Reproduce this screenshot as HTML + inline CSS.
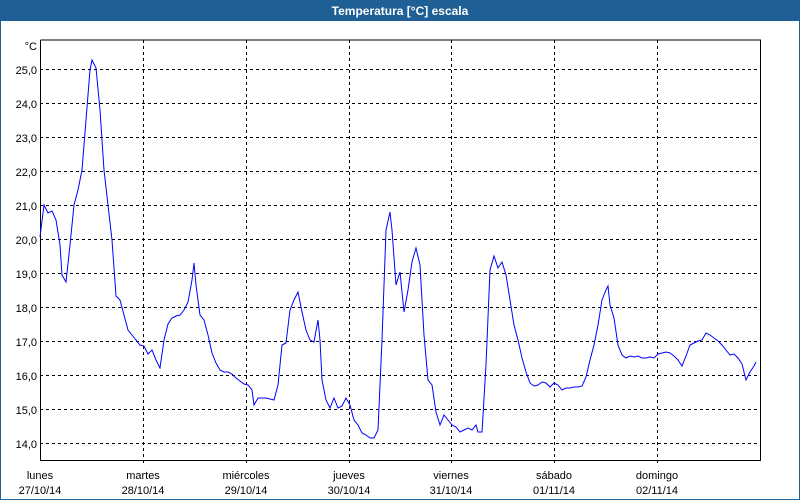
<!DOCTYPE html>
<html><head><meta charset="utf-8"><style>
html,body{margin:0;padding:0;width:800px;height:500px;overflow:hidden;background:#fff;}
</style></head><body>
<svg width="800" height="500" xmlns="http://www.w3.org/2000/svg" font-family="Liberation Sans, sans-serif">
<rect x="0" y="0" width="800" height="500" fill="#fff"/>
<rect x="0.5" y="0.5" width="799" height="499" fill="none" stroke="#1e5f95" stroke-width="1"/>
<rect x="0" y="0" width="800" height="21" fill="#1e5f95"/>
<text x="400" y="15" fill="#fff" font-size="12" font-weight="bold" text-anchor="middle">Temperatura [°C] escala</text>
<g stroke="#000" stroke-width="1" stroke-dasharray="3,3" fill="none">
<path d="M40 69.5H760M40 103.5H760M40 137.5H760M40 171.5H760M40 205.5H760M40 239.5H760M40 273.5H760M40 307.5H760M40 341.5H760M40 375.5H760M40 409.5H760M40 443.5H760"/>
<path d="M143.5 40V466M246.5 40V466M349.5 40V466M451.5 40V466M554.5 40V466M657.5 40V466"/>
</g>
<path d="M40.5 40V460.5H760.5V40H40.5" fill="none" stroke="#000" stroke-width="1"/>
<g font-size="11" fill="#000" text-anchor="end">
<text x="37" y="50">°C</text>
<text x="37" y="74">25,0</text><text x="37" y="108">24,0</text><text x="37" y="142">23,0</text>
<text x="37" y="176">22,0</text><text x="37" y="210">21,0</text><text x="37" y="244">20,0</text>
<text x="37" y="278">19,0</text><text x="37" y="312">18,0</text><text x="37" y="346">17,0</text>
<text x="37" y="380">16,0</text><text x="37" y="414">15,0</text><text x="37" y="448">14,0</text>
</g>
<g font-size="11" fill="#000" text-anchor="middle">
<text x="40" y="479">lunes</text><text x="40" y="494">27/10/14</text>
<text x="143" y="479">martes</text><text x="143" y="494">28/10/14</text>
<text x="246" y="479">miércoles</text><text x="246" y="494">29/10/14</text>
<text x="349" y="479">jueves</text><text x="349" y="494">30/10/14</text>
<text x="451" y="479">viernes</text><text x="451" y="494">31/10/14</text>
<text x="554" y="479">sábado</text><text x="554" y="494">01/11/14</text>
<text x="657" y="479">domingo</text><text x="657" y="494">02/11/14</text>
</g>
<polyline fill="none" stroke="#0000ff" stroke-width="1" points="40,237 44,205 48,213 52,211 56,220 60,245 62,275 66,282 70,245 74,205 78,190 82,170 86,120 90,70 92,60 96,68 100,110 104,170 108,205 112,240 116,296 120,300 124,315 128,330 132,335 136,340 140,345 144,346 148,354 152,350 156,360 160,368 164,340 168,324 172,318 176,316 180,315 184,310 188,302 192,280 194,263 196,285 200,315 204,320 208,335 212,353 216,363 220,370 224,372 228,372 232,374 236,378 240,381 244,384 248,385 252,390 254,405 258,398 262,398 266,398 270,399 274,400 278,385 282,345 286,343 290,310 294,300 298,292 302,312 306,330 310,340 314,342 318,320 320,340 322,380 326,400 330,408 334,398 338,408 342,406 346,398 350,405 354,420 358,425 362,433 366,435 370,438 374,438 378,430 382,340 386,230 390,212 392,230 396,285 400,272 404,312 408,290 412,262 416,248 420,265 424,335 428,380 432,385 436,412 440,425 444,415 448,420 452,425 456,427 460,432 464,430 468,428 472,430 476,425 478,432 482,432 486,365 490,270 494,256 498,268 502,262 506,275 510,300 514,325 518,340 522,358 526,372 530,383 534,386 538,385 542,382 546,383 550,387 554,383 558,385 562,390 566,388 570,388 574,387 578,387 582,386 586,377 590,360 594,345 598,325 602,300 606,290 608,286 610,305 614,318 618,345 622,355 626,358 630,356 634,357 638,356 642,358 646,358 650,357 654,358 658,354 662,353 666,352 670,353 674,356 678,360 682,366 686,356 690,345 694,343 698,341 702,340 706,333 710,335 714,338 718,341 722,345 726,350 730,355 734,354 738,358 742,364 746,380 750,372 754,366 756,362"/>
</svg>
</body></html>
